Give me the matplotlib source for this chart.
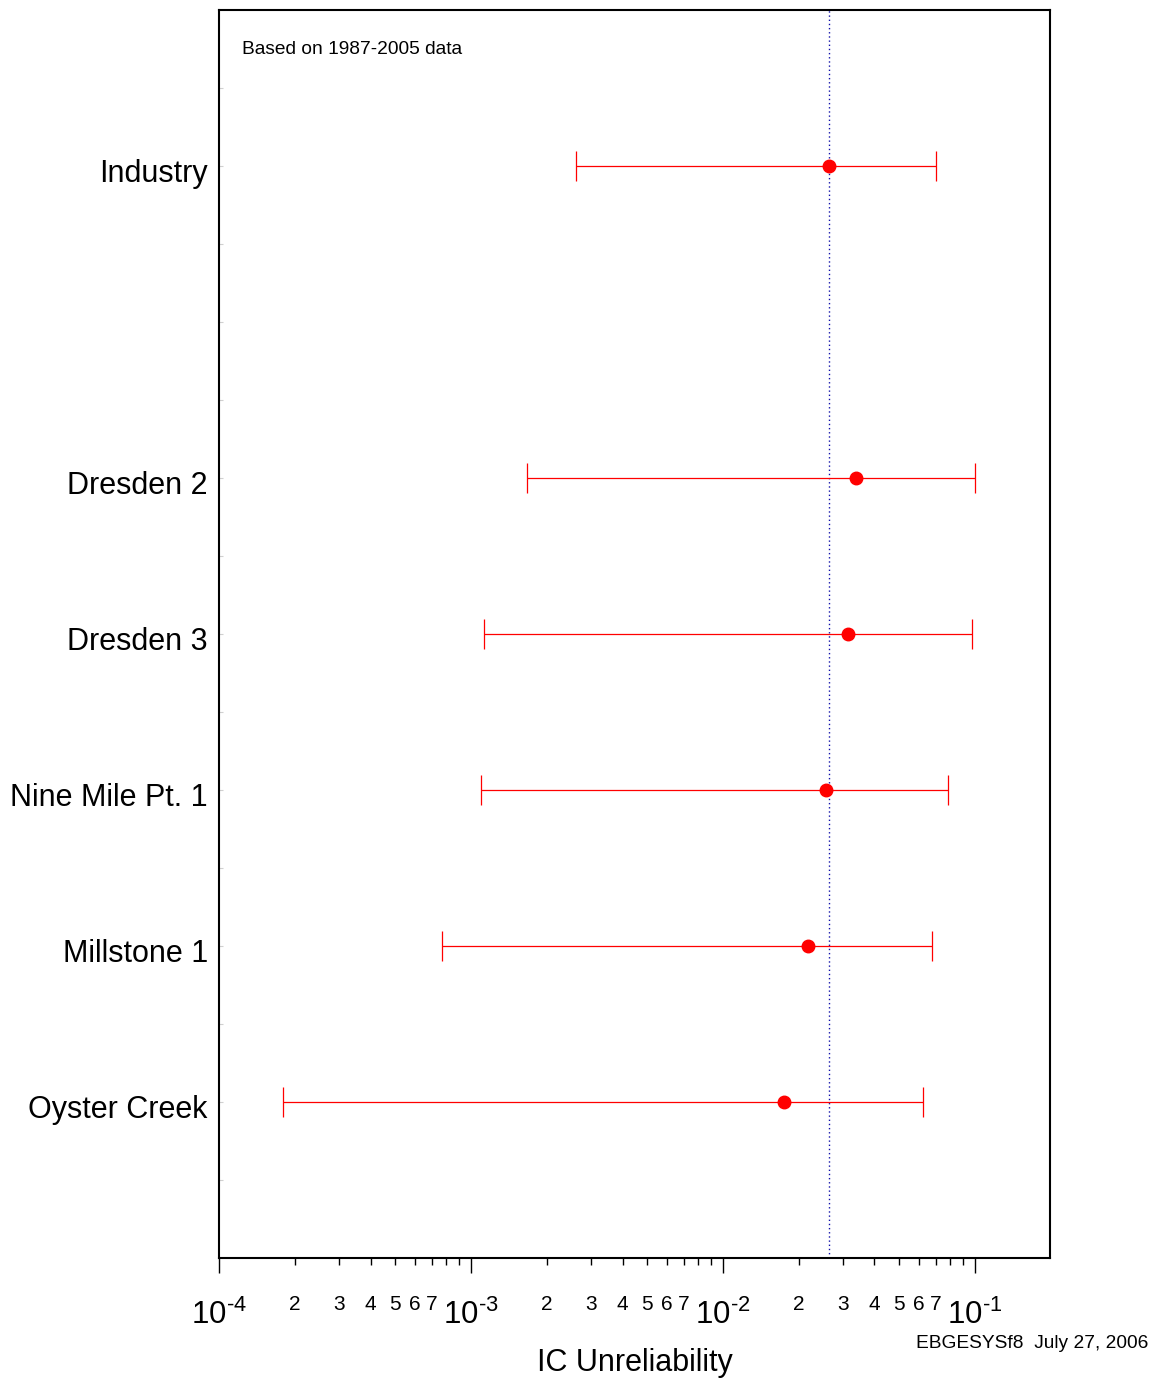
import numpy as np
import matplotlib.pyplot as plt
import matplotlib.transforms as mtransforms
from matplotlib.ticker import FixedLocator, NullFormatter

plt.rcParams["font.family"] = ["Liberation Sans", "DejaVu Sans"]
plt.rcParams["mathtext.fontset"] = "custom"
plt.rcParams["mathtext.rm"] = "Liberation Sans"
plt.rcParams["mathtext.it"] = "Liberation Sans"

# values
plants = ["Industry", "Dresden 2", "Dresden 3", "Nine Mile Pt. 1", "Millstone 1", "Oyster Creek"]
rows = [7, 5, 4, 3, 2, 1]
lower = [0.00261, 0.00167, 0.00113, 0.00110, 0.000768, 0.000179]
mean = [0.0263, 0.0337, 0.0313, 0.0256, 0.0217, 0.01746]
upper = [0.0700, 0.1000, 0.0973, 0.0782, 0.0675, 0.0622]
decades = [1e-4, 1e-3, 1e-2, 1e-1]
decade_labels = [r"$10^{\text{-}4}$", r"$10^{\text{-}3}$", r"$10^{\text{-}2}$", r"$10^{\text{-}1}$"]


def main():
    fig = plt.figure(figsize=(11.58, 13.81), dpi=100)
    ax = fig.add_axes([0.1891, 0.0891, 0.9067 - 0.1891, 0.9928 - 0.0891])

    lo = np.array(mean) - np.array(lower)
    hi = np.array(upper) - np.array(mean)
    ax.errorbar(mean, rows, xerr=[lo, hi], fmt="o", color="red", ecolor="red",
                elinewidth=0.9, capsize=11, capthick=0.9, markersize=9, zorder=3)
    ax.axvline(mean[0], color="#1010aa", linestyle=(0, (1, 2)), linewidth=1.0, zorder=2)

    ax.set_xscale("log")
    ax.set_xlim(1e-4, 0.199)
    ax.set_ylim(0, 8)

    # x ticks: decades big, 2..7 labelled small
    ax.xaxis.set_major_locator(FixedLocator(decades))
    ax.set_xticklabels(decade_labels)
    minors = [m * d for d in decades for m in range(2, 10) if m * d < 0.199]
    ax.xaxis.set_minor_locator(FixedLocator(minors))
    ax.xaxis.set_minor_formatter(NullFormatter())
    ax.tick_params(axis="x", which="major", length=11, width=1, direction="out",
                   labelsize=22.5, pad=19)
    ax.tick_params(axis="x", which="minor", length=5, width=1, direction="out")
    for d in decades:
        for m in range(2, 8):
            if m * d < 0.199:
                ax.annotate(str(m), xy=(m * d, 0), xycoords=("data", "axes fraction"),
                            xytext=(0, -40), textcoords="offset points",
                            ha="center", va="bottom", fontsize=15)

    # y ticks
    ax.yaxis.set_major_locator(FixedLocator(rows))
    ax.set_yticklabels(plants)
    ax.yaxis.set_minor_locator(FixedLocator([v / 2 for v in range(1, 16)]))
    ax.tick_params(axis="y", which="both", direction="in", length=3, width=0.8,
                   color="#d0d0d0", labelsize=22, pad=8)
    shift = mtransforms.ScaledTranslation(0, -5 / 100, fig.dpi_scale_trans)
    for lab in ax.get_yticklabels():
        lab.set_transform(lab.get_transform() + shift)

    for s in ax.spines.values():
        s.set_linewidth(1.5)

    # axis title placed directly so it sits where the reference has it
    fig.text(0.5479, 1 - 1363 / 1381, "IC Unreliability", fontsize=22,
             ha="center", va="center")
    ax.text(0.028, 0.968, "Based on 1987-2005 data", transform=ax.transAxes,
            fontsize=13.8, va="center", ha="left")
    fig.text(0.992, 0.027, "EBGESYSf8  July 27, 2006", fontsize=13.8,
             ha="right", va="center")

    fig.savefig("out.png", dpi=100)


if __name__ == "__main__":
    main()
